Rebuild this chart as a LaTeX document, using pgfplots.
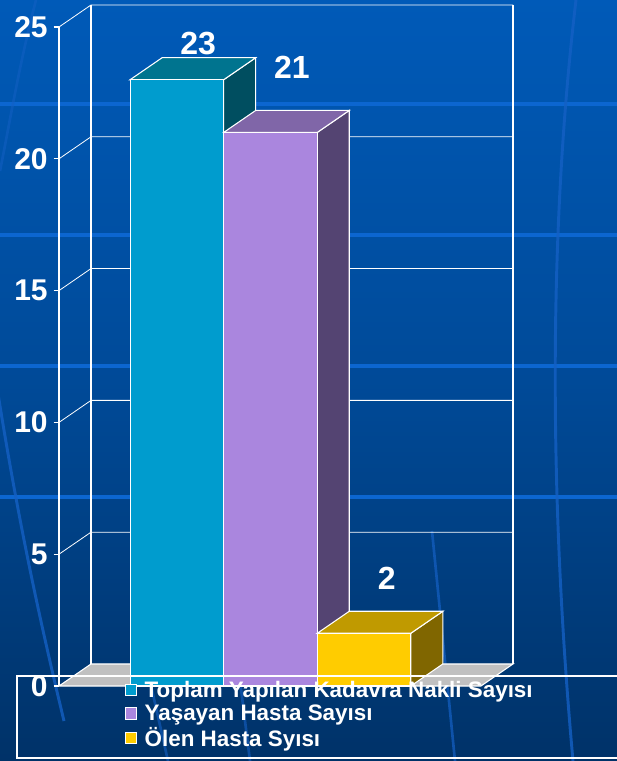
\documentclass[border=0pt]{standalone}
\usepackage{fontspec}
\setmainfont{Liberation Sans}
\usepackage{pgfplots}
\pgfplotsset{compat=1.18}
\pgfdeclarelayer{bg}
\pgfsetlayers{bg,main}
\definecolor{bgtop}{RGB}{0,90,184}
\definecolor{bgmid}{RGB}{0,74,152}
\definecolor{bgbot}{RGB}{0,50,104}
\definecolor{stripe}{RGB}{12,102,208}
\definecolor{streak}{RGB}{20,96,196}
\definecolor{c1f}{RGB}{0,156,206}
\definecolor{c1t}{RGB}{0,116,143}
\definecolor{c1s}{RGB}{0,78,96}
\definecolor{c2f}{RGB}{170,134,222}
\definecolor{c2t}{RGB}{128,102,168}
\definecolor{c2s}{RGB}{84,68,114}
\definecolor{c3f}{RGB}{255,204,0}
\definecolor{c3t}{RGB}{192,154,0}
\definecolor{c3s}{RGB}{128,102,0}
\definecolor{floorc}{RGB}{192,192,192}
\begin{document}
\begin{tikzpicture}[x=0.75pt,y=0.75pt]
\begin{axis}[
  scale only axis, width=316.5pt, height=494.25pt,
  xmin=-1.26, xmax=3.25, ymin=0, ymax=25,
  clip=false,
  axis x line=none, axis y line*=left,
  y axis line style={white, line width=1pt, -},
  ytick={0,5,...,25},
  ytick style={white, line width=0.8pt},
  tick align=outside, major tick length=4pt,
  yticklabel style={text=white, font=\bfseries\fontsize{22.5}{22.5}\selectfont, xshift=-1pt},
  /pgf/number format/assume math mode=true,
  every axis plot/.append style={mark=none},
  legend style={at={(0.155,0.012)}, anchor=north west, draw=none, fill=none,
    text=white, font=\bfseries\fontsize{16.8}{18}\selectfont, row sep=0pt,
    column sep=4pt, inner sep=0pt},
  legend cell align=left,
  legend image code/.code={\draw[#1, draw=white, line width=0.6pt] (0pt,-4.2pt) rectangle (8.4pt,4.2pt);},
]
\addlegendimage{fill=c1f}\addlegendentry{Toplam Yapılan Kadavra Nakli Sayısı}
\addlegendimage{fill=c2f}\addlegendentry{Yaşayan Hasta Sayısı}
\addlegendimage{fill=c3f}\addlegendentry{Ölen Hasta Syısı}
\coordinate (O) at (axis cs:-1.26,0);
% floor
\addplot[fill=floorc, draw=white, line width=0.8pt, forget plot] coordinates {(-1.26,0) (3.25,0) (3.592,0.835) (-0.918,0.835)} -- cycle;
% back wall and side wall grid
\pgfplotsinvokeforeach{5,10,15,20,25}{
  \draw[white, line width=0.6pt] (axis cs:-1.26,#1) -- (axis cs:-0.918,#1+0.835) -- (axis cs:3.592,#1+0.835);
}
\draw[white, line width=1pt] (axis cs:-0.918,0.835) -- (axis cs:-0.918,25.835);
\draw[white, line width=1pt] (axis cs:3.592,0.835) -- (axis cs:3.592,25.835);
% bar 1
\addplot[fill=c1s, draw=white, line width=0.8pt, forget plot] coordinates {(0.5,0) (0.5,23) (0.842,23.835) (0.842,0.835)} -- cycle;
\addplot[fill=c1t, draw=white, line width=0.8pt, forget plot] coordinates {(-0.5,23) (0.5,23) (0.842,23.835) (-0.158,23.835)} -- cycle;
\addplot[ybar, bar width=1, bar shift=0pt, fill=c1f, draw=white, line width=0.8pt, forget plot,
  nodes near coords, every node near coord/.append style={anchor=center, text=white, font=\bfseries\fontsize{24}{24}\selectfont, xshift=16pt, yshift=27pt}] coordinates {(0,23)};
% bar 2
\addplot[fill=c2s, draw=white, line width=0.8pt, forget plot] coordinates {(1.5,0) (1.5,21) (1.842,21.835) (1.842,0.835)} -- cycle;
\addplot[fill=c2t, draw=white, line width=0.8pt, forget plot] coordinates {(0.5,21) (1.5,21) (1.842,21.835) (0.842,21.835)} -- cycle;
\addplot[ybar, bar width=1, bar shift=0pt, fill=c2f, draw=white, line width=0.8pt, forget plot,
  nodes near coords, every node near coord/.append style={anchor=center, text=white, font=\bfseries\fontsize{24}{24}\selectfont, xshift=16pt, yshift=49pt}] coordinates {(1,21)};
% bar 3
\addplot[fill=c3s, draw=white, line width=0.8pt, forget plot] coordinates {(2.5,0) (2.5,2) (2.842,2.835) (2.842,0.835)} -- cycle;
\addplot[fill=c3t, draw=white, line width=0.8pt, forget plot] coordinates {(1.5,2) (2.5,2) (2.842,2.835) (1.842,2.835)} -- cycle;
\addplot[ybar, bar width=1, bar shift=0pt, fill=c3f, draw=white, line width=0.8pt, forget plot,
  nodes near coords, every node near coord/.append style={anchor=center, text=white, font=\bfseries\fontsize{24}{24}\selectfont, xshift=17pt, yshift=41pt}] coordinates {(2,2)};
\end{axis}
\begin{scope}[shift={(O)}]
\begin{scope}[shift={(-59,-75)}]
\begin{pgfonlayer}{bg}
\clip (0,0) rectangle (617,761);
\shade[top color=bgtop, bottom color=bgbot, middle color=bgmid] (0,0) rectangle (617,761);
\foreach \yy in {104,235,366,497} \fill[stripe] (0,{761-\yy-1.8}) rectangle (617,{761-\yy+1.8});
\draw[streak, line width=2.2pt, opacity=0.8] (576,761) .. controls (552,560) and (546,300) .. (573,0);
\draw[streak, line width=2.2pt, opacity=0.8] (-4,380) .. controls (18,240) and (40,140) .. (64,40);
\draw[streak, line width=2pt, opacity=0.5] (36,761) .. controls (20,700) and (10,640) .. (0,590);
\draw[streak, line width=2pt, opacity=0.7] (432,230) .. controls (440,150) and (448,70) .. (455,0);
\draw[streak, line width=2pt, opacity=0.6] (150,80) -- (168,0);
\draw[streak, line width=2pt, opacity=0.6] (240,80) -- (250,0);
\end{pgfonlayer}
\draw[white, line width=0.8pt] (17,85) rectangle (640,3);
\pgfresetboundingbox
\path[use as bounding box] (0,0) rectangle (617,761);
\end{scope}
\end{scope}
\end{tikzpicture}
\end{document}
